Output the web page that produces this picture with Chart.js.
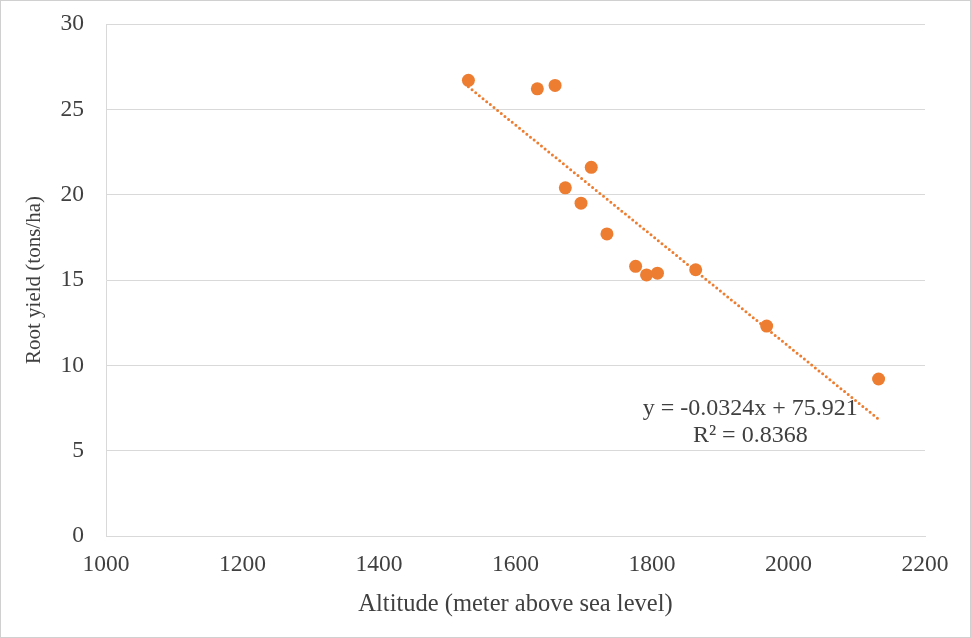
<!DOCTYPE html>
<html>
<head>
<meta charset="utf-8">
<script src="https://cdn.jsdelivr.net/npm/chart.js@4"></script>
<style>
html,body{margin:0;padding:0;background:#fff;}
#wrap{width:971px;height:638px;position:relative;}
</style>
</head>
<body>
<div id="wrap"><canvas id="c" width="971" height="638"></canvas></div>
<script>
// Data
const altitude = [1531, 1632, 1658, 1673, 1696, 1711, 1734, 1776, 1792, 1808, 1864, 1968, 2132];
const rootYield = [26.7, 26.2, 26.4, 20.4, 19.5, 21.6, 17.7, 15.8, 15.3, 15.4, 15.6, 12.3, 9.2];
const slope = -0.0324;
const intercept = 75.921;
const eqLabel = "y = -0.0324x + 75.921";
const r2Label = "R² = 0.8368";
const xTicks = [1000, 1200, 1400, 1600, 1800, 2000, 2200];
const yTicks = [0, 5, 10, 15, 20, 25, 30];

const xMinData = Math.min(...altitude), xMaxData = Math.max(...altitude);
const trend = [xMinData, xMaxData].map(x => ({x: x, y: slope * x + intercept}));
const points = altitude.map((a, i) => ({x: a, y: rootYield[i]}));

const FONT = "'Liberation Serif', 'DejaVu Serif', serif";
const TXT = '#404040';
const ORANGE = '#ED7D31';

const extras = {
  id: 'extras',
  afterDraw(chart) {
    const ctx = chart.ctx;
    const xs = chart.scales.x, ys = chart.scales.y;
    ctx.save();
    ctx.fillStyle = TXT;
    ctx.font = "24px " + FONT;
    ctx.textAlign = 'center';
    ctx.textBaseline = 'middle';
    const cx = xs.getPixelForValue(1944);
    ctx.fillText(eqLabel, cx, ys.getPixelForValue(7.44));
    ctx.fillText(r2Label, cx, ys.getPixelForValue(5.86));
    ctx.strokeStyle = '#D0D0D0';
    ctx.lineWidth = 1;
    ctx.strokeRect(0.5, 0.5, chart.width - 1, chart.height - 1);
    ctx.restore();
  }
};

new Chart(document.getElementById('c'), {
  type: 'scatter',
  data: {
    datasets: [
      {
        label: 'Root yield',
        data: points,
        backgroundColor: ORANGE,
        borderColor: ORANGE,
        pointRadius: 6.5,
        pointHoverRadius: 6.5,
        borderWidth: 0,
        order: 1
      },
      {
        label: 'Trend',
        type: 'line',
        data: trend,
        borderColor: ORANGE,
        borderWidth: 3,
        borderDash: [0, 4.7],
        borderCapStyle: 'round',
        pointRadius: 0,
        fill: false,
        order: 2
      }
    ]
  },
  options: {
    responsive: false,
    animation: false,
    events: [],
    layout: {padding: {left: 0, right: 46, top: 24, bottom: 0}},
    plugins: {legend: {display: false}, tooltip: {enabled: false}},
    scales: {
      x: {
        type: 'linear',
        min: 1000, max: 2200,
        afterBuildTicks: s => { s.ticks = xTicks.map(v => ({value: v})); },
        afterFit: s => { s.height = 102; s.paddingLeft = 0; s.paddingRight = 0; },
        grid: {display: true, color: 'rgba(0,0,0,0)', drawTicks: false},
        border: {display: true, color: '#D9D9D9', width: 1},
        ticks: {color: TXT, font: {family: FONT, size: 23.5}, padding: 15, maxRotation: 0,
                callback: v => String(v)},
        title: {display: true, text: 'Altitude (meter above sea level)', color: TXT,
                font: {family: FONT, size: 24.5}, padding: {top: 0, bottom: 19}}
      },
      y: {
        type: 'linear',
        min: 0, max: 30,
        afterBuildTicks: s => { s.ticks = yTicks.map(v => ({value: v})); },
        afterFit: s => { s.width = 106; s.paddingTop = 0; s.paddingBottom = 0; },
        grid: {color: '#D9D9D9', lineWidth: 1, drawTicks: false},
        border: {display: true, color: '#D9D9D9', width: 1},
        ticks: {color: TXT, font: {family: FONT, size: 23.5}, padding: 22,
                callback: v => String(v)},
        title: {display: true, text: 'Root yield (tons/ha)', color: TXT,
                font: {family: FONT, size: 21}, padding: {top: 22, bottom: 0}}
      }
    }
  },
  plugins: [extras]
});
</script>
</body>
</html>
